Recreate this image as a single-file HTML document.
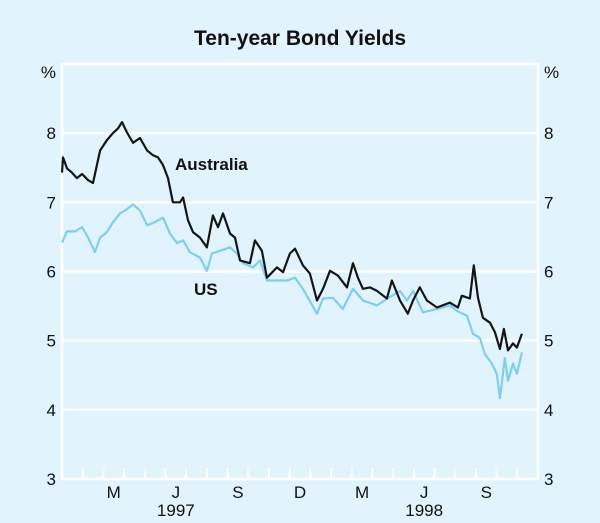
<!DOCTYPE html>
<html><head><meta charset="utf-8"><style>
body{margin:0;background:#e1f3fc;}
svg{display:block;font-family:"Liberation Sans",Arial,sans-serif;}
</style></head><body>
<svg width="600" height="523" viewBox="0 0 600 523">
<rect x="0" y="0" width="600" height="523" fill="#e1f3fc"/>
<text x="300" y="45" text-anchor="middle" font-size="21" font-weight="bold" fill="#111">Ten-year Bond Yields</text>
<g id="grid"></g>
<g id="axes"></g>
<g id="series"></g>
<text x="175" y="170" font-size="17" font-weight="bold" fill="#111">Australia</text>
<text x="194" y="295" font-size="17" font-weight="bold" fill="#111">US</text>
</svg>
<script>
const yTicks=[3,4,5,6,7,8];
const monthLabels=["M","J","S","D","M","J","S"];
const monthLabelIdx=[2,5,8,11,14,17,20];
const yearLabels=["1997","1998"];
const yearLabelIdx=[5,17];
const auMonths=[0,0.05,0.24,0.48,0.72,0.97,1.26,1.5,1.84,2.17,2.46,2.71,2.9,3.14,3.43,3.77,4.11,4.4,4.64,4.88,5.12,5.36,5.7,5.85,6.09,6.33,6.67,7,7.29,7.54,7.78,8.12,8.36,8.6,9.08,9.32,9.66,9.9,10.39,10.68,11.01,11.26,11.64,11.98,12.32,12.61,12.95,13.33,13.77,14.06,14.3,14.54,14.88,15.22,15.7,15.94,16.33,16.71,16.96,17.29,17.63,18.12,18.74,19.13,19.32,19.71,19.9,20.1,20.34,20.68,20.92,21.16,21.35,21.55,21.79,21.98,22.22];
const auValues=[7.43,7.65,7.49,7.43,7.35,7.41,7.32,7.28,7.75,7.9,8,8.07,8.16,8.01,7.86,7.93,7.75,7.68,7.65,7.54,7.35,7,7,7.07,6.74,6.57,6.49,6.35,6.81,6.64,6.84,6.55,6.49,6.16,6.12,6.45,6.3,5.91,6.06,5.99,6.26,6.33,6.09,5.97,5.58,5.75,6.01,5.94,5.77,6.12,5.91,5.75,5.77,5.72,5.61,5.87,5.58,5.39,5.58,5.77,5.58,5.48,5.55,5.48,5.65,5.61,6.09,5.62,5.33,5.26,5.12,4.88,5.17,4.86,4.96,4.9,5.1];
const usMonths=[0,0.24,0.63,0.97,1.26,1.59,1.84,2.17,2.46,2.8,3.04,3.43,3.77,4.11,4.4,4.88,5.22,5.56,5.85,6.18,6.67,7,7.25,7.63,8.12,8.45,8.74,9.23,9.57,9.9,10.39,10.87,11.26,11.64,12.32,12.61,13.09,13.57,14.06,14.54,15.22,15.94,16.33,16.67,16.96,17.44,18.12,18.74,19.08,19.57,19.86,20.19,20.43,20.77,21.01,21.16,21.4,21.55,21.79,21.98,22.22];
const usValues=[6.42,6.58,6.58,6.64,6.49,6.28,6.49,6.57,6.71,6.84,6.88,6.97,6.88,6.67,6.7,6.78,6.55,6.41,6.45,6.28,6.2,6.01,6.26,6.3,6.35,6.26,6.12,6.06,6.16,5.87,5.87,5.87,5.91,5.75,5.39,5.61,5.62,5.46,5.75,5.58,5.51,5.65,5.72,5.58,5.72,5.41,5.46,5.51,5.43,5.36,5.1,5.04,4.81,4.67,4.52,4.17,4.75,4.42,4.67,4.52,4.83];

const L=62,R=538,T=64,B=479;
function xs(m){return L+m*(R-L)/23;}
function ys(v){return B-(v-3)*(B-T)/6;}
const NS="http://www.w3.org/2000/svg";
function mk(tag,attrs,parent){const e=document.createElementNS(NS,tag);for(const k in attrs)e.setAttribute(k,attrs[k]);parent.appendChild(e);return e;}
const grid=document.getElementById('grid'),axes=document.getElementById('axes'),series=document.getElementById('series');
const fr=mk('rect',{x:L,y:T,width:R-L,height:B-T,fill:'none',stroke:'#fff','stroke-width':2.5},grid);


yTicks.concat([9]).forEach(v=>{
  const g=mk('line',{x1:L,x2:R,y1:ys(v),y2:ys(v),stroke:'#fff','stroke-width':2.5},grid);
  
  
});
yTicks.forEach(v=>{
  const a=mk('text',{x:L-6,y:ys(v)+6,'text-anchor':'end','font-size':17,fill:'#111'},axes);a.textContent=v;
  
  
  const b=mk('text',{x:R+6,y:ys(v)+6,'text-anchor':'start','font-size':17,fill:'#111'},axes);b.textContent=v;
  
  
});
const p1=mk('text',{x:L-6,y:78,'text-anchor':'end','font-size':17,fill:'#111'},axes);p1.textContent='%';


const p2=mk('text',{x:R+6,y:78,'text-anchor':'start','font-size':17,fill:'#111'},axes);p2.textContent='%';


for(let m=1;m<23;m++){
  const t=mk('line',{x1:xs(m),x2:xs(m),y1:B-11,y2:B,stroke:'#fff','stroke-width':2},axes);
  
  
}
monthLabels.forEach((s,i)=>{
  const t=mk('text',{x:xs(monthLabelIdx[i]+0.5),y:B+19,'text-anchor':'middle','font-size':17,fill:'#111'},axes);t.textContent=s;
  
  
});
yearLabels.forEach((s,i)=>{
  const t=mk('text',{x:xs(yearLabelIdx[i]+0.5),y:B+37,'text-anchor':'middle','font-size':17,fill:'#111'},axes);t.textContent=s;
  
  
});
function path(ms,vs){return ms.map((m,i)=>(i?'L':'M')+xs(m).toFixed(1)+' '+ys(vs[i]).toFixed(1)).join(' ');}
const us=mk('path',{d:path(usMonths,usValues),fill:'none',stroke:'#7ccff4','stroke-width':2.2,'stroke-linejoin':'round'},series);


const au=mk('path',{d:path(auMonths,auValues),fill:'none',stroke:'#151515','stroke-width':2.2,'stroke-linejoin':'round'},series);


</script>
</body></html>
